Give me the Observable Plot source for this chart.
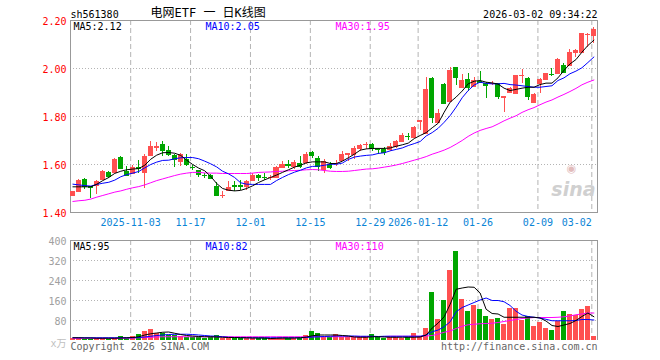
<!DOCTYPE html>
<html><head><meta charset="utf-8">
<script src="https://cdn.jsdelivr.net/npm/d3@7"></script>
<script src="https://cdn.jsdelivr.net/npm/@observablehq/plot@0.6"></script>
<style>
html,body{margin:0;padding:0;background:#fff}
#chart{position:relative;width:660px;height:360px;background:#fff;overflow:hidden}
#chart svg{position:absolute;left:0}
</style>
</head><body><div id="chart"></div>
<script>
const dates = [
"2025-10-20","2025-10-21","2025-10-22","2025-10-23","2025-10-24","2025-10-27","2025-10-28","2025-10-29","2025-10-30","2025-10-31",
"2025-11-03","2025-11-04","2025-11-05","2025-11-06","2025-11-07","2025-11-10","2025-11-11","2025-11-12","2025-11-13","2025-11-14",
"2025-11-17","2025-11-18","2025-11-19","2025-11-20","2025-11-21","2025-11-24","2025-11-25","2025-11-26","2025-11-27","2025-11-28",
"2025-12-01","2025-12-02","2025-12-03","2025-12-04","2025-12-05","2025-12-08","2025-12-09","2025-12-10","2025-12-11","2025-12-12",
"2025-12-15","2025-12-16","2025-12-17","2025-12-18","2025-12-19","2025-12-22","2025-12-23","2025-12-24","2025-12-25","2025-12-26",
"2025-12-29","2025-12-30","2025-12-31","2026-01-05","2026-01-06","2026-01-07","2026-01-08","2026-01-09",
"2026-01-12","2026-01-13","2026-01-14","2026-01-15","2026-01-16","2026-01-19","2026-01-20","2026-01-21","2026-01-22","2026-01-23",
"2026-01-26","2026-01-27","2026-01-28","2026-01-29","2026-01-30","2026-02-02","2026-02-03","2026-02-04","2026-02-05","2026-02-06",
"2026-02-09","2026-02-10","2026-02-11","2026-02-12","2026-02-13","2026-02-24","2026-02-25","2026-02-26","2026-02-27","2026-03-02"];

const open = [1.470,1.486,1.538,1.508,1.511,1.539,1.568,1.565,1.631,1.572,
1.562,1.587,1.565,1.639,1.672,1.685,1.660,1.639,1.611,1.620,
1.589,1.574,1.556,1.556,1.507,1.470,1.490,1.511,1.512,1.507,
1.532,1.556,1.546,1.544,1.546,1.586,1.598,1.593,1.604,1.610,
1.649,1.625,1.580,1.601,1.603,1.615,1.642,1.642,1.665,1.683,
1.683,1.664,1.664,1.664,1.676,1.697,1.718,1.711,1.779,1.731,
1.958,1.776,1.933,1.864,2.004,1.922,1.953,1.925,1.945,1.939,
1.936,1.936,1.879,1.901,1.894,1.969,1.958,1.858,1.936,1.954,
1.977,1.981,2.013,2.013,2.065,2.068,2.140,2.139];
const high = [1.488,1.537,1.540,1.510,1.533,1.573,1.571,1.625,1.633,1.590,
1.594,1.618,1.642,1.694,1.692,1.694,1.674,1.643,1.646,1.640,
1.597,1.577,1.562,1.558,1.524,1.486,1.528,1.528,1.535,1.535,
1.562,1.558,1.5625,1.556,1.590,1.611,1.618,1.615,1.635,1.649,
1.653,1.632,1.622,1.607,1.615,1.653,1.646,1.674,1.685,1.693,
1.688,1.667,1.671,1.688,1.701,1.729,1.728,1.758,1.783,1.961,
1.961,1.828,1.936,2.006,2.006,1.975,1.978,1.964,1.989,1.942,
1.945,1.939,1.883,1.920,1.972,1.994,1.961,1.897,1.960,1.981,
1.999,2.043,2.019,2.078,2.078,2.147,2.144,2.172];
const low = [1.466,1.484,1.495,1.458,1.476,1.536,1.542,1.563,1.580,1.553,
1.560,1.562,1.500,1.636,1.653,1.632,1.632,1.586,1.593,1.593,
1.574,1.546,1.542,1.537,1.465,1.457,1.486,1.486,1.493,1.490,
1.528,1.528,1.532,1.535,1.542,1.582,1.583,1.579,1.583,1.601,
1.625,1.569,1.562,1.579,1.593,1.611,1.611,1.621,1.653,1.662,
1.653,1.643,1.639,1.653,1.667,1.694,1.700,1.707,1.742,1.725,
1.772,1.769,1.850,1.860,1.929,1.915,1.906,1.922,1.936,1.876,
1.930,1.871,1.818,1.897,1.892,1.939,1.867,1.858,1.894,1.950,
1.967,1.978,1.981,2.008,2.044,2.064,2.089,2.105];
const close = [1.486,1.535,1.507,1.503,1.531,1.569,1.551,1.621,1.582,1.556,
1.586,1.583,1.635,1.676,1.675,1.660,1.643,1.621,1.643,1.601,
1.587,1.560,1.554,1.540,1.469,1.472,1.503,1.508,1.510,1.528,
1.556,1.544,1.544,1.547,1.587,1.601,1.596,1.610,1.593,1.643,
1.639,1.590,1.611,1.586,1.605,1.643,1.644,1.667,1.679,1.685,
1.665,1.662,1.649,1.676,1.694,1.721,1.715,1.756,1.782,1.913,
1.797,1.814,1.856,1.992,1.964,1.950,1.922,1.950,1.942,1.929,
1.939,1.883,1.882,1.915,1.971,1.972,1.885,1.892,1.956,1.978,
1.975,2.038,1.985,2.068,2.075,2.144,2.142,2.161];

const ma5 = [1.507,1.507,1.507,1.507,1.518,1.533,1.546,1.563,1.572,1.578,
1.581,1.583,1.597,1.622,1.639,1.649,1.650,1.647,1.638,1.618,
1.600,1.585,1.574,1.551,1.521,1.500,1.493,1.490,1.492,1.500,
1.511,1.525,1.536,1.546,1.556,1.567,1.578,1.589,1.597,1.607,
1.611,1.611,1.611,1.604,1.604,1.614,1.628,1.643,1.660,1.665,
1.667,1.667,1.667,1.669,1.676,1.682,1.689,1.708,1.721,1.733,
1.753,1.772,1.818,1.860,1.881,1.906,1.936,1.947,1.950,1.943,
1.940,1.935,1.918,1.908,1.913,1.918,1.922,1.922,1.933,1.939,
1.939,1.961,1.992,2.019,2.037,2.068,2.096,2.118];
const ma10 = [1.518,1.515,1.512,1.510,1.517,1.522,1.526,1.535,1.549,1.558,
1.564,1.571,1.586,1.600,1.610,1.617,1.618,1.624,1.628,1.629,
1.629,1.624,1.614,1.603,1.590,1.572,1.561,1.546,1.524,1.518,
1.517,1.517,1.517,1.517,1.533,1.546,1.558,1.568,1.576,1.586,
1.592,1.593,1.597,1.601,1.601,1.606,1.621,1.631,1.635,1.638,
1.640,1.646,1.649,1.657,1.663,1.669,1.679,1.687,1.696,1.719,
1.733,1.751,1.776,1.804,1.839,1.878,1.908,1.931,1.943,1.938,
1.936,1.936,1.938,1.933,1.931,1.928,1.925,1.922,1.922,1.925,
1.928,1.950,1.961,1.978,1.989,2.003,2.025,2.048];
const ma30 = [1.446,1.449,1.451,1.456,1.464,1.471,1.478,1.485,1.490,1.497,
1.503,1.508,1.515,1.524,1.533,1.540,1.547,1.554,1.560,1.564,
1.567,1.567,1.565,1.564,1.564,1.5625,1.5625,1.5625,1.5625,1.5625,
1.564,1.567,1.568,1.569,1.571,1.572,1.574,1.575,1.576,1.578,
1.579,1.578,1.575,1.572,1.571,1.571,1.572,1.575,1.578,1.581,
1.582,1.585,1.589,1.593,1.598,1.604,1.611,1.618,1.625,1.633,
1.643,1.651,1.660,1.671,1.685,1.700,1.717,1.731,1.742,1.750,
1.757,1.769,1.782,1.793,1.803,1.817,1.828,1.837,1.849,1.860,
1.869,1.881,1.892,1.904,1.917,1.932,1.943,1.952];

const volume = [8,7,6,6,7,7,6,8,16,8,
16,24,36,44,30,28,22,20,16,12,
14,12,10,14,20,10,9,9,9,9,
9,9,9,8,9,9,9,9,10,20,
36,28,12,11,24,13,13,13,13,13,
24,13,8,13,13,9,13,28,16,48,
192,84,160,280,356,164,116,140,124,96,
84,88,64,128,128,80,96,56,72,48,
40,76,116,104,100,124,136,16];
const volMa5 = [11,11,10,10,9,9,9,9,10,11,
12,15,22,27,30,33,34,29,24,20,
18,16,15,15,14,13,12,12,11,11,
10,10,10,8,9,10,10,10,11,14,
19,22,22,22,22,20,18,14,13,13,
15,15,14,13,13,13,13,13,14,22,
50,70,95,145,205,210,214,213,190,125,
108,106,93,93,93,93,93,93,90,78,
60,56,62,68,80,96,110,95];
const volMa10 = [11,11,11,11,11,11,11,11,11,11,
11,12,14,17,20,22,24,25,25,25,
24,22,20,18,17,15,13,12,12,11,
11,11,11,11,11,11,11,11,11,12,
14,15,16,17,18,18,18,18,17,17,
17,16,17,17,17,17,17,17,17,22,
35,42,55,75,115,132,142,152,162,170,
160,160,155,140,117,102,96,93,90,85,
79,79,79,79,80,84,84,82];
const volMa30 = [9,9,9,9,9,9,9,9,9,9,
10,11,12,13,14,15,15,15,15,15,
15,15,15,15,15,15,15,15,15,15,
15,15,15,15,15,15,15,15,15,15,
15,15,15,15,15,15,15,15,16,16,
16,16,16,17,17,17,17,17,17,18,
20,26,33,38,48,57,63,65,67,68,
69,72,76,80,84,88,90,92,92,92,
92,93,95,98,103,106,110,110];

const priceTicks = [1.40, 1.60, 1.80, 2.00, 2.20];
const volTicks = [80, 160, 240, 320, 400];
const tickDates = ["2025-11-03","2025-11-17","2025-12-01","2025-12-15","2025-12-29","2026-01-12","2026-01-26","2026-02-09","2026-03-02"];
const tickLabels = ["2025-11-03","11-17","12-01","12-15","12-29","2026-01-12","01-26","02-09","03-02"];

const code = "sh561380";
const title = "电网ETF 一 日K线图";
const stamp = "2026-03-02 09:34:22";

const candles = dates.map((date, i) => ({
  i, date, open: open[i], high: high[i], low: low[i], close: close[i],
  volume: volume[i], ma5: ma5[i], ma10: ma10[i], ma30: ma30[i],
  vma5: volMa5[i], vma10: volMa10[i], vma30: volMa30[i]
}));
const ticks = tickDates.map((d, k) => ({i: dates.indexOf(d), label: tickLabels[k]}));

const RED = "#ff5050", GREEN = "#00a600", BLUE_TXT = "#0a84d6";
const col = d => d.close >= d.open ? RED : GREEN;
const FONT = "'DejaVu Sans Mono', 'Noto Sans CJK SC', monospace";
const cx = d => d.i + 0.4, bx1 = d => d.i - 0.02, bx2 = d => d.i + 0.82;
const gx = d => d.i + 0.05;
const dotted = {stroke: "#b4b4b4", strokeDasharray: "1,2"};
const dashed = {stroke: "#b4b4b4", strokeDasharray: "5,3"};
const last = a => a[a.length - 1];

const up = Plot.plot({
  width: 660, height: 232,
  marginLeft: 70, marginRight: 63, marginTop: 20, marginBottom: 20,
  x: {domain: [0, dates.length], axis: null},
  y: {domain: [1.40, 2.20], axis: null},
  style: {fontFamily: FONT, fontSize: "10px", background: "transparent", overflow: "visible"},
  marks: [
    Plot.ruleY(priceTicks.slice(1, -1), dotted),
    Plot.ruleX(ticks, {x: gx, ...dashed}),
    Plot.frame({stroke: "#999"}),
    Plot.text(["sina"], {frameAnchor: "bottom-right", dx: -2, dy: -17, textAnchor: "end", lineAnchor: "bottom",
      fontSize: 19, fontWeight: "bold", fontStyle: "italic", fill: "#d0d0d0", fontFamily: "DejaVu Sans"}),
    Plot.text(["◉"], {frameAnchor: "bottom-right", dx: -26, dy: -41, textAnchor: "middle", lineAnchor: "bottom",
      fontSize: 11, fill: "#e2bcbc", fontFamily: "DejaVu Sans"}),
    Plot.ruleX(candles, {x: cx, y1: "low", y2: "high", stroke: col, shapeRendering: "crispEdges"}),
    Plot.rect(candles, {x1: bx1, x2: bx2, y1: "open", y2: "close", fill: col, shapeRendering: "crispEdges"}),
    Plot.ruleY(candles, {y: "close", x1: bx1, x2: bx2, stroke: col, shapeRendering: "crispEdges"}),
    Plot.ruleY(candles, {y: "open", x1: bx1, x2: bx2, stroke: col, shapeRendering: "crispEdges"}),
    Plot.line(candles, {x: cx, y: "ma30", stroke: "#ff00ff", strokeWidth: 1}),
    Plot.line(candles, {x: cx, y: "ma10", stroke: "#0000ff", strokeWidth: 1}),
    Plot.line(candles, {x: cx, y: "ma5", stroke: "#000", strokeWidth: 1}),
    Plot.text(priceTicks, {y: d => d, text: d => d.toFixed(2), frameAnchor: "left", dx: -4, dy: 1, textAnchor: "end", fill: "#ff0000"}),
    Plot.text(ticks.slice(0, -1), {x: gx, text: "label", frameAnchor: "bottom", dy: 13, lineAnchor: "bottom", textAnchor: "middle", fill: BLUE_TXT}),
    Plot.text(ticks.slice(-1), {x: gx, text: "label", frameAnchor: "bottom", dy: 13, lineAnchor: "bottom", textAnchor: "end", fill: BLUE_TXT}),
    Plot.text([`MA5:${last(ma5).toFixed(2)}`], {frameAnchor: "top-left", dx: 3, dy: 2.5, lineAnchor: "top", textAnchor: "start", fill: "#000"}),
    Plot.text([`MA10:${last(ma10).toFixed(2)}`], {frameAnchor: "top-left", dx: 135, dy: 2.5, lineAnchor: "top", textAnchor: "start", fill: "#0000ff"}),
    Plot.text([`MA30:${last(ma30).toFixed(2)}`], {frameAnchor: "top-left", dx: 265, dy: 2.5, lineAnchor: "top", textAnchor: "start", fill: "#ff00ff"}),
    Plot.text([code], {frameAnchor: "top-left", dx: 0, dy: -3, lineAnchor: "bottom", textAnchor: "start", fill: "#000"}),
    Plot.text([title], {frameAnchor: "top-left", dx: 80, dy: -3.5, lineAnchor: "bottom", textAnchor: "start", fill: "#000", fontSize: 12}),
    Plot.text([stamp], {frameAnchor: "top-right", dx: 0, dy: -3, lineAnchor: "bottom", textAnchor: "end", fill: "#000"})
  ]
});

const vol = Plot.plot({
  width: 660, height: 128,
  marginLeft: 70, marginRight: 63, marginTop: 8, marginBottom: 20,
  x: {domain: [0, dates.length], axis: null},
  y: {domain: [0, 400], axis: null},
  style: {fontFamily: FONT, fontSize: "10px", background: "transparent", overflow: "visible"},
  marks: [
    Plot.ruleY(volTicks.slice(0, -1), dotted),
    Plot.ruleX(ticks, {x: gx, ...dashed}),
    Plot.ruleY([400], {stroke: "#999"}),
    Plot.ruleX([0, dates.length], {stroke: "#999"}),
    Plot.rect(candles, {x1: bx1, x2: bx2, y1: 0, y2: "volume", fill: col, shapeRendering: "crispEdges"}),
    Plot.line(candles, {x: cx, y: "vma30", stroke: "#ff00ff", strokeWidth: 1}),
    Plot.line(candles, {x: cx, y: "vma10", stroke: "#0000ff", strokeWidth: 1}),
    Plot.line(candles, {x: cx, y: "vma5", stroke: "#000", strokeWidth: 1}),
    Plot.text(volTicks, {y: d => d, text: d => String(d), frameAnchor: "left", dx: -4, dy: 1, textAnchor: "end", fill: "#a0a0a0"}),
    Plot.text(["x万"], {frameAnchor: "bottom-left", dx: -4, dy: 3, textAnchor: "end", lineAnchor: "middle", fill: "#c0c0c0"}),
    Plot.text([`MA5:${last(volMa5)}`], {frameAnchor: "top-left", dx: 3, dy: 2, lineAnchor: "top", textAnchor: "start", fill: "#000"}),
    Plot.text([`MA10:${last(volMa10)}`], {frameAnchor: "top-left", dx: 135, dy: 2, lineAnchor: "top", textAnchor: "start", fill: "#0000ff"}),
    Plot.text([`MA30:${last(volMa30)}`], {frameAnchor: "top-left", dx: 265, dy: 2, lineAnchor: "top", textAnchor: "start", fill: "#ff00ff"}),
    Plot.text(["Copyright 2026 SINA.COM"], {frameAnchor: "bottom-left", dx: 0, dy: 9, lineAnchor: "bottom", textAnchor: "start", fill: "#666"}),
    Plot.text(["http://finance.sina.com.cn"], {frameAnchor: "bottom-right", dx: 0, dy: 9, lineAnchor: "bottom", textAnchor: "end", fill: "#666"})
  ]
});

const root = document.getElementById("chart");
up.style.top = "0px";
vol.style.top = "232px";
root.appendChild(up);
root.appendChild(vol);
</script>
</body></html>
